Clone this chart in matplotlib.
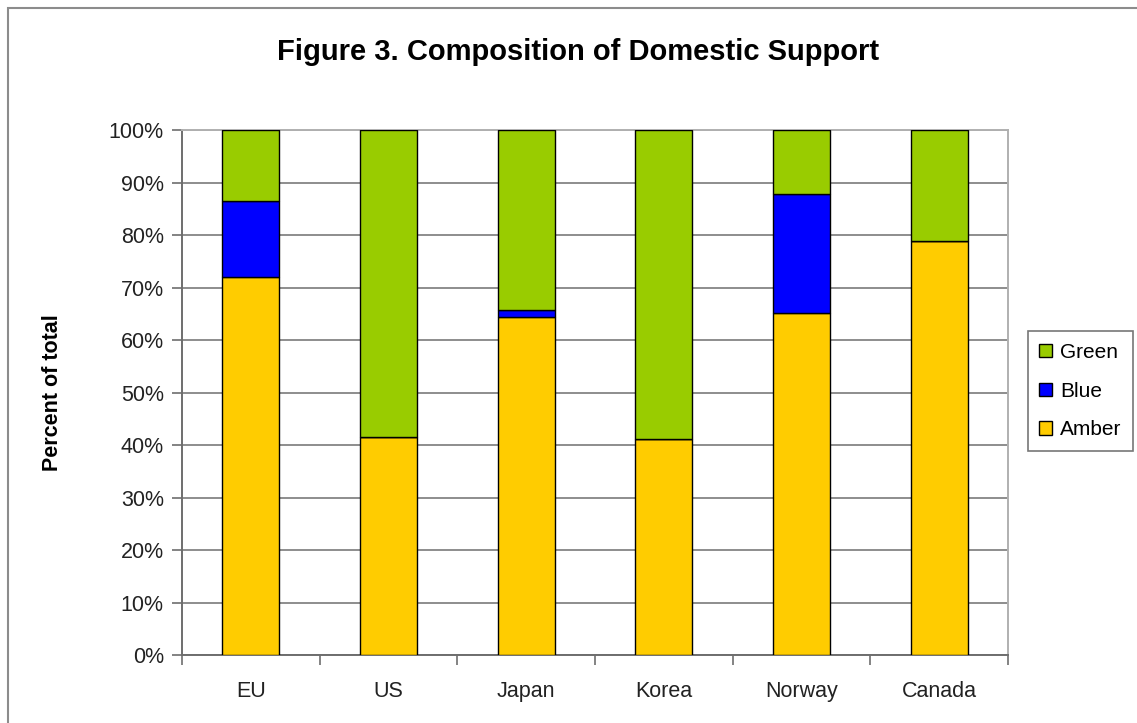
import matplotlib.pyplot as plt
import numpy as np
from matplotlib.patches import Rectangle

plt.rcParams['font.family'] = ['Liberation Sans', 'DejaVu Sans']

# data (percent of total)
countries = ['EU', 'US', 'Japan', 'Korea', 'Norway', 'Canada']
amber = [72.0, 41.5, 64.4, 41.1, 65.1, 78.9]
blue = [14.5, 0.0, 1.3, 0.0, 22.7, 0.0]
green = [100 - a - b for a, b in zip(amber, blue)]
yticks = np.arange(0, 101, 10)

fig = plt.figure(figsize=(11.37, 7.23), dpi=100)
# outer chart frame
fig.patches.append(Rectangle((8 / 1137, -0.1), 1.2, 1 - 8 / 723 + 0.1, transform=fig.transFigure,
                             fill=False, edgecolor='#8c8c8c', linewidth=1.5))

ax = fig.add_axes([0.160, 0.094, 0.7265, 0.726])
x = np.arange(len(countries))
w = 0.415
ax.bar(x, amber, w, color='#ffcc00', edgecolor='black', linewidth=1, label='Amber', zorder=3)
ax.bar(x, blue, w, bottom=amber, color='#0000ff', edgecolor='black', linewidth=1, label='Blue', zorder=3)
bottoms = [a + b for a, b in zip(amber, blue)]
ax.bar(x, green, w, bottom=bottoms, color='#99cc00', edgecolor='black', linewidth=1, label='Green', zorder=3)

ax.set_xlim(-0.5, len(countries) - 0.5)
ax.set_ylim(0, 100)
ax.set_yticks(yticks)
ax.set_yticklabels([f'{t}%' for t in yticks], fontsize=15.5, color='#222222')
ax.set_xticks(x)
ax.set_xticklabels(countries, fontsize=15.5, color='#222222')
ax.tick_params(axis='x', length=0, pad=19)
ax.set_xticks(np.arange(-0.5, len(countries)), minor=True)
ax.tick_params(axis='x', which='minor', length=7, direction='out', color='#6e6e6e', width=1.2)
ax.tick_params(axis='y', length=7, direction='out', color='#6e6e6e', width=1.2, pad=6)

ax.grid(axis='y', color='#7a7a7a', linewidth=1.2, zorder=0)
for s in ['left', 'bottom']:
    ax.spines[s].set_color('#6e6e6e')
    ax.spines[s].set_linewidth(1.4)
for s in ['right', 'top']:
    ax.spines[s].set_color('#b0b0b0')
    ax.spines[s].set_linewidth(1.4)

ax.set_ylabel('Percent of total', fontsize=15.5, fontweight='bold', labelpad=33)
fig.text(0.508, 0.928, 'Figure 3. Composition of Domestic Support', ha='center', va='center',
         fontsize=21, fontweight='bold')

handles, labels = ax.get_legend_handles_labels()
leg = fig.legend(handles[::-1], labels[::-1], loc='center left', bbox_to_anchor=(0.904, 0.459),
                 fontsize=15, frameon=True, fancybox=False, edgecolor='#555555',
                 handlelength=0.6, handleheight=0.6, handletextpad=0.4, labelspacing=0.95,
                 borderpad=0.55, borderaxespad=0)
leg.get_frame().set_linewidth(1.2)

fig.savefig('out.png', dpi=100)
